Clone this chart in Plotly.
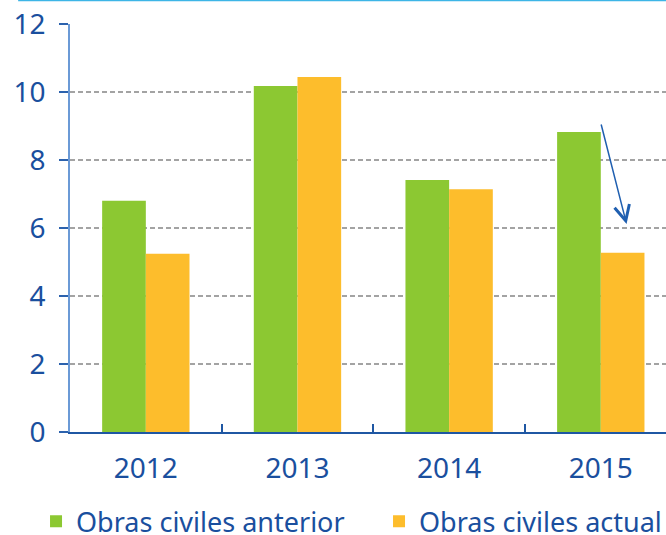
import plotly.graph_objects as go

years = ["2012", "2013", "2014", "2015"]
anterior = [6.8, 10.18, 7.41, 8.82]
actual = [5.24, 10.44, 7.14, 5.27]
series_names = ["Obras civiles anterior", "Obras civiles actual"]
y_ticks = [0, 2, 4, 6, 8, 10, 12]

GREEN = "#8cc832"
ORANGE = "#fdbd2c"
TEXT = "#1a4f9e"
FONT = "Noto Sans"

fig = go.Figure()
fig.add_trace(go.Bar(x=years, y=anterior, name=series_names[0], legend="legend",
                     marker=dict(color=GREEN, line=dict(width=0))))
fig.add_trace(go.Bar(x=years, y=actual, name=series_names[1], legend="legend2",
                     marker=dict(color=ORANGE, line=dict(width=0))))

legend_common = dict(orientation="h", xanchor="left", y=-0.22, yanchor="middle",
                     font=dict(size=27, color=TEXT), itemwidth=30, bgcolor="rgba(0,0,0,0)")

fig.update_layout(
    width=666, height=535,
    margin=dict(l=70, r=0, t=24, b=103, autoexpand=False),
    paper_bgcolor="white", plot_bgcolor="white",
    barmode="group", bargap=0.424, bargroupgap=0,
    font=dict(family=FONT, color=TEXT, size=26),
    showlegend=True,
    legend=dict(x=-0.057, **legend_common),
    legend2=dict(x=0.5185, **legend_common),
    xaxis=dict(
        type="category", range=[-0.5, 3.43], automargin=False,
        showline=True, linecolor="#1f57a3", linewidth=2,
        ticks="inside", tickson="boundaries", ticklen=8, tickcolor="#1f57a3", tickwidth=1.5,
        tickfont=dict(size=28, color=TEXT), ticklabelstandoff=10,
        showgrid=False, fixedrange=True,
    ),
    yaxis=dict(
        range=[0, 12], tickvals=y_ticks, automargin=False,
        showline=True, linecolor="#6b9ad6", linewidth=1.5,
        ticks="outside", ticklen=9, tickcolor="#2c62ad", tickwidth=1.5,
        tickfont=dict(size=28, color=TEXT), ticklabelstandoff=8,
        showgrid=True, gridcolor="#a3a3a3", griddash="5px,3px", gridwidth=1.5,
        zeroline=False, fixedrange=True,
    ),
    shapes=[dict(type="line", xref="paper", yref="paper", x0=-0.087, x1=1.0, y0=1.058, y1=1.058,
                 line=dict(color="#3db5e6", width=2))],
    annotations=[dict(x=3.17, y=6.12, ax=3.0, ay=9.09, xref="x", yref="y", axref="x", ayref="y",
                      showarrow=True, arrowhead=5, arrowsize=2, arrowwidth=1.5, arrowcolor="#1f5fb0", text="")],
)

fig.write_html("out.html", config={"displayModeBar": False},
               post_script="document.body.style.margin='0';document.body.style.overflow='hidden';")
